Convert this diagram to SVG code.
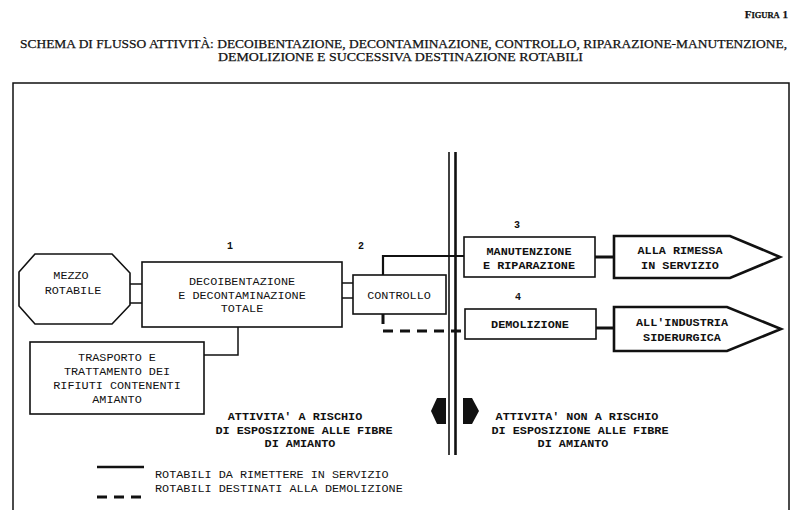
<svg xmlns="http://www.w3.org/2000/svg" width="792" height="510" viewBox="0 0 792 510">
<style>
.box{fill:#fff;stroke:#111;stroke-width:1.6}
.out{fill:#fff;stroke:#111;stroke-width:2.6}
.t{font-family:"Liberation Mono","Courier New",monospace;font-size:11.8px;fill:#111;text-anchor:middle}
.b{font-weight:bold}
.n{font-family:"Liberation Mono",monospace;font-size:10px;font-weight:bold;fill:#111;text-anchor:middle}
.ttl{font-family:"Liberation Serif","Times New Roman",serif;fill:#111;stroke:#111;stroke-width:0.25}
.ln{fill:none;stroke:#111;stroke-width:1.5}
.solid{fill:none;stroke:#111;stroke-width:2.2}
.dash{fill:none;stroke:#111;stroke-width:3;stroke-dasharray:10 7}
</style>
<rect width="792" height="510" fill="#fff"/>
<g id="title">
<text class="ttl" x="788" y="18" text-anchor="end" font-weight="bold"><tspan font-size="11">F</tspan><tspan font-size="8.5">IGURA</tspan><tspan font-size="11"> 1</tspan></text>
<text class="ttl" x="20" y="48" font-size="12.5" textLength="767" lengthAdjust="spacingAndGlyphs">SCHEMA DI FLUSSO ATTIVITÀ: DECOIBENTAZIONE, DECONTAMINAZIONE, CONTROLLO, RIPARAZIONE-MANUTENZIONE,</text>
<text class="ttl" x="218" y="61" font-size="12.5" textLength="365" lengthAdjust="spacingAndGlyphs">DEMOLIZIONE E SUCCESSIVA DESTINAZIONE ROTABILI</text>
</g>
<path d="M13,520 V83 H789 V520" fill="none" stroke="#111" stroke-width="1.5"/>
<g id="connectors">
<line class="ln" x1="130" y1="284" x2="142" y2="284"/>
<line class="ln" x1="130" y1="303" x2="142" y2="303"/>
<line class="ln" x1="342" y1="283" x2="353" y2="283"/>
<line class="ln" x1="342" y1="298" x2="353" y2="298"/>
<polyline class="ln" points="238,327 238,355 204,355"/>
<polyline class="solid" points="383,275 383,256 464,256"/>
<polyline class="dash" points="383,314 383,331 464,331"/>
<line x1="595" y1="257" x2="614" y2="257" stroke="#111" stroke-width="3"/>
<line x1="596" y1="328" x2="614" y2="328" stroke="#111" stroke-width="3"/>
</g>
<g id="divider">
<line x1="449" y1="152" x2="449" y2="455" stroke="#111" stroke-width="1.6"/>
<line x1="455.5" y1="152" x2="455.5" y2="455" stroke="#111" stroke-width="2.6"/>
<polygon points="446,398 437,398 431,411 437,424 446,424" fill="#111"/>
<polygon points="463,398 472,398 479,411 472,424 463,424" fill="#111"/>
</g>
<g id="mezzo">
<polygon class="box" points="35,254 112,254 130,273 130,305 112,324 35,324 19,306 19,272"/>
<text class="t" x="71" y="279">MEZZO</text>
<text class="t" x="73" y="294">ROTABILE</text>
</g>
<g id="n1">
<text class="n" x="230" y="249">1</text>
<rect class="box" x="142" y="262" width="200" height="65"/>
<text class="t" x="242" y="285">DECOIBENTAZIONE</text>
<text class="t" x="242" y="299">E DECONTAMINAZIONE</text>
<text class="t" x="242" y="312">TOTALE</text>
</g>
<g id="n2">
<text class="n" x="361" y="249">2</text>
<rect class="box" x="353" y="275" width="93" height="39"/>
<text class="t" x="399" y="299">CONTROLLO</text>
</g>
<g id="trasporto">
<rect class="box" x="30" y="342" width="174" height="72"/>
<text class="t" x="117" y="361">TRASPORTO E</text>
<text class="t" x="117" y="375">TRATTAMENTO DEI</text>
<text class="t" x="117" y="389">RIFIUTI CONTENENTI</text>
<text class="t" x="117" y="403">AMIANTO</text>
</g>
<g id="n3">
<text class="n" x="517" y="228">3</text>
<rect class="box" x="464" y="237" width="131" height="40"/>
<text class="t b" x="529" y="255">MANUTENZIONE</text>
<text class="t b" x="529" y="269">E RIPARAZIONE</text>
</g>
<g id="rimessa">
<polygon class="out" points="614,236 730,236 780,257 730,278 614,278"/>
<text class="t b" x="680" y="254">ALLA RIMESSA</text>
<text class="t b" x="680" y="269">IN SERVIZIO</text>
</g>
<g id="n4">
<text class="n" x="518" y="300">4</text>
<rect class="box" x="465" y="309" width="131" height="30"/>
<text class="t b" x="530" y="328">DEMOLIZIONE</text>
</g>
<g id="siderurgica">
<polygon class="out" points="614,307 727,307 781,329 727,351 614,351"/>
<text class="t b" x="682" y="326">ALL'INDUSTRIA</text>
<text class="t b" x="682" y="341">SIDERURGICA</text>
</g>
<g id="zone-labels">
<text class="t b" x="295" y="420">ATTIVITA' A RISCHIO</text>
<text class="t b" x="304" y="434">DI ESPOSIZIONE ALLE FIBRE</text>
<text class="t b" x="300" y="447">DI AMIANTO</text>
<text class="t b" x="577" y="420">ATTIVITA' NON A RISCHIO</text>
<text class="t b" x="580" y="434">DI ESPOSIZIONE ALLE FIBRE</text>
<text class="t b" x="573" y="447">DI AMIANTO</text>
</g>
<g id="legend">
<line x1="97" y1="467" x2="144" y2="467" stroke="#111" stroke-width="2.5"/>
<line x1="97" y1="497" x2="141" y2="497" stroke="#111" stroke-width="3" stroke-dasharray="10 7"/>
<text class="t" x="155" y="478" style="text-anchor:start">ROTABILI DA RIMETTERE IN SERVIZIO</text>
<text class="t" x="155" y="492" style="text-anchor:start">ROTABILI DESTINATI ALLA DEMOLIZIONE</text>
</g>
</svg>
